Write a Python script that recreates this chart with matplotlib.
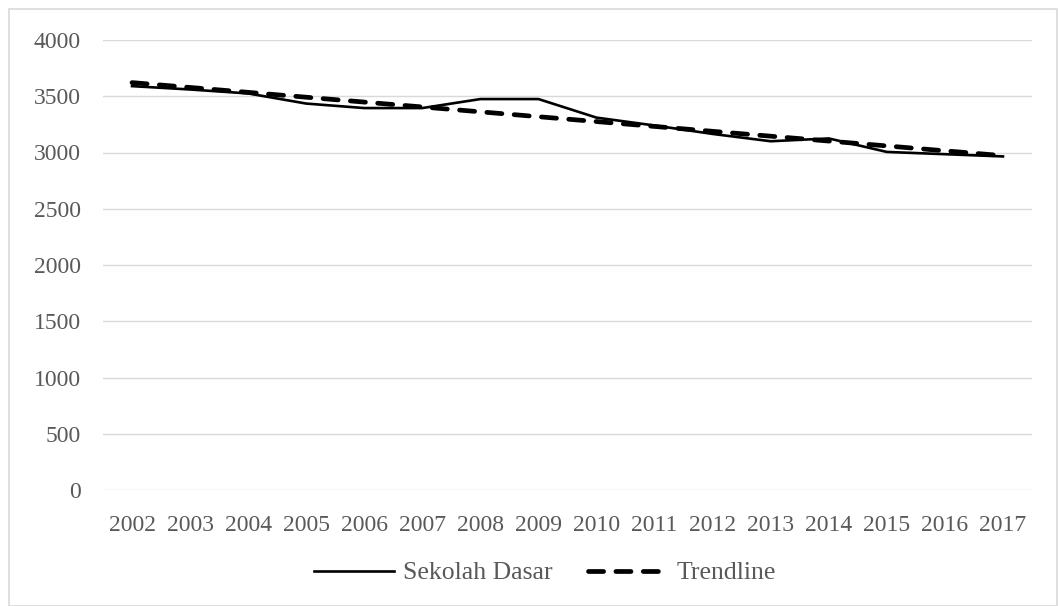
import matplotlib
matplotlib.use("Agg")
import matplotlib.pyplot as plt
import matplotlib.patches
import numpy as np

years = [2002, 2003, 2004, 2005, 2006, 2007, 2008, 2009,
         2010, 2011, 2012, 2013, 2014, 2015, 2016, 2017]
sekolah_dasar = [3590, 3560, 3525, 3435, 3395, 3395, 3475, 3475,
                 3310, 3240, 3165, 3100, 3125, 3005, 2985, 2965]
y_ticks = [0, 500, 1000, 1500, 2000, 2500, 3000, 3500, 4000]

plt.rcParams['font.family'] = ['Liberation Serif', 'DejaVu Serif']
text_color = '#595959'

fig = plt.figure(figsize=(10.58, 6.06), dpi=100)
ax = fig.add_axes([103 / 1058, 1 - 490 / 606, 929 / 1058, 450 / 606])

x = np.arange(len(years))
# linear trendline fitted to the series
slope, intercept = np.polyfit(x, sekolah_dasar, 1)
trend = slope * x + intercept

ax.plot(x, sekolah_dasar, color='black', lw=1.9, label='Sekolah Dasar',
        solid_joinstyle='round', zorder=3)
ax.plot(x, trend, color='black', lw=3.4, ls=(0, (3.2, 2.6)),
        dash_capstyle='round', label='Trendline', zorder=4)

ax.set_xlim(-0.5, len(years) - 0.5)
ax.set_ylim(0, 4000)
ax.set_yticks(y_ticks)
ax.set_xticks(x)
ax.set_xticklabels([str(y) for y in years])
ax.tick_params(length=0, labelsize=17, colors=text_color)
ax.tick_params(axis='y', pad=16)
ax.tick_params(axis='x', pad=18)
ax.grid(axis='y', color='#d9d9d9', lw=1)
ax.set_axisbelow(True)
for s in ax.spines.values():
    s.set_visible(False)

leg = fig.legend(loc='center', bbox_to_anchor=(545 / 1058, 1 - 573 / 606),
                 ncol=2, frameon=False, fontsize=18.5, handlelength=3.1,
                 handletextpad=0.35, columnspacing=1.4)
for t in leg.get_texts():
    t.set_color(text_color)

# outer chart border
fig.patches.append(matplotlib.patches.Rectangle(
    (9 / 1058, 0), 1 - 10 / 1058, 1 - 9 / 606, transform=fig.transFigure,
    fill=False, edgecolor='#d9d9d9', lw=1.2))

fig.savefig('out.png', dpi=100)
